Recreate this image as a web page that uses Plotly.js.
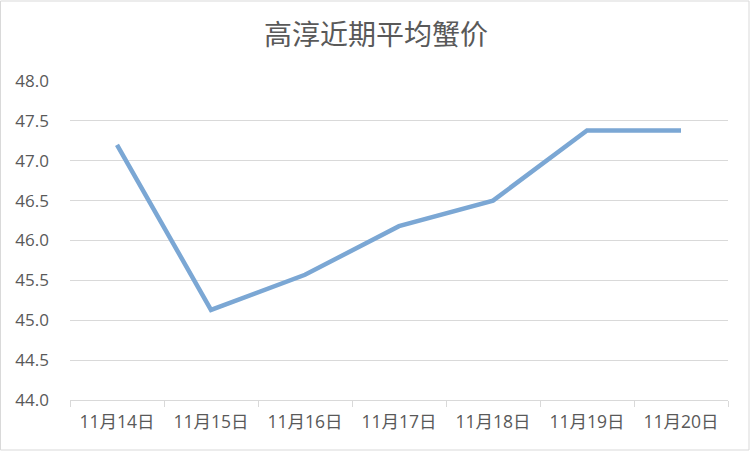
<!DOCTYPE html>
<html>
<head>
<meta charset="utf-8">
<script src="https://cdn.plot.ly/plotly-3.0.1.min.js"></script>
<style>html,body{margin:0;padding:0;background:#fff}</style>
</head>
<body>
<div id="chart" style="width:752px;height:452px"></div>
<script>
const categories = ["11月14日", "11月15日", "11月16日", "11月17日", "11月18日", "11月19日", "11月20日"];
const prices = [47.2, 45.13, 45.57, 46.18, 46.5, 47.38, 47.38];
const yTicks = [44.0, 44.5, 45.0, 45.5, 46.0, 46.5, 47.0, 47.5, 48.0];
const chartTitle = "高淳近期平均蟹价";

const font = "'Noto Sans CJK SC', 'Microsoft YaHei', sans-serif";
const tickFont = "'Open Sans', 'Noto Sans CJK SC', sans-serif";
Plotly.newPlot("chart", [{
  x: categories,
  y: prices,
  type: "scatter",
  mode: "lines",
  line: {color: "#7ba7d4", width: 4.5},
  hoverinfo: "skip"
}], {
  width: 752, height: 452,
  margin: {l: 70, r: 24, t: 81, b: 52},
  paper_bgcolor: "#ffffff",
  plot_bgcolor: "#ffffff",
  showlegend: false,
  title: {text: chartTitle, x: 0.5, xanchor: "center", y: 0.922, yanchor: "middle",
          font: {family: font, size: 28, color: "#595959"}},
  xaxis: {
    type: "category",
    range: [-0.5, 6.5],
    tickson: "boundaries",
    ticks: "outside", ticklen: 6, tickcolor: "#d9d9d9",
    showline: true, linecolor: "#d9d9d9", linewidth: 1,
    showgrid: false, zeroline: false,
    ticklabelstandoff: 6,
    tickfont: {family: tickFont, size: 17.5, color: "#595959"}
  },
  yaxis: {
    range: [44, 48],
    tickvals: yTicks,
    ticktext: yTicks.map(v => v.toFixed(1)),
    showgrid: true, gridcolor: "#d9d9d9", gridwidth: 1,
    zeroline: false, showline: false, ticks: "",
    ticklabelstandoff: 20,
    tickfont: {family: tickFont, size: 17, color: "#595959"}
  },
  shapes: [{type: "rect", xref: "paper", yref: "paper", x0: -69.5/658, x1: 1 + 21/658, y0: -50/319, y1: 1 + 80/319,
            line: {color: "#d9d9d9", width: 1}}]
}, {displayModeBar: false, staticPlot: true});
</script>
</body>
</html>
